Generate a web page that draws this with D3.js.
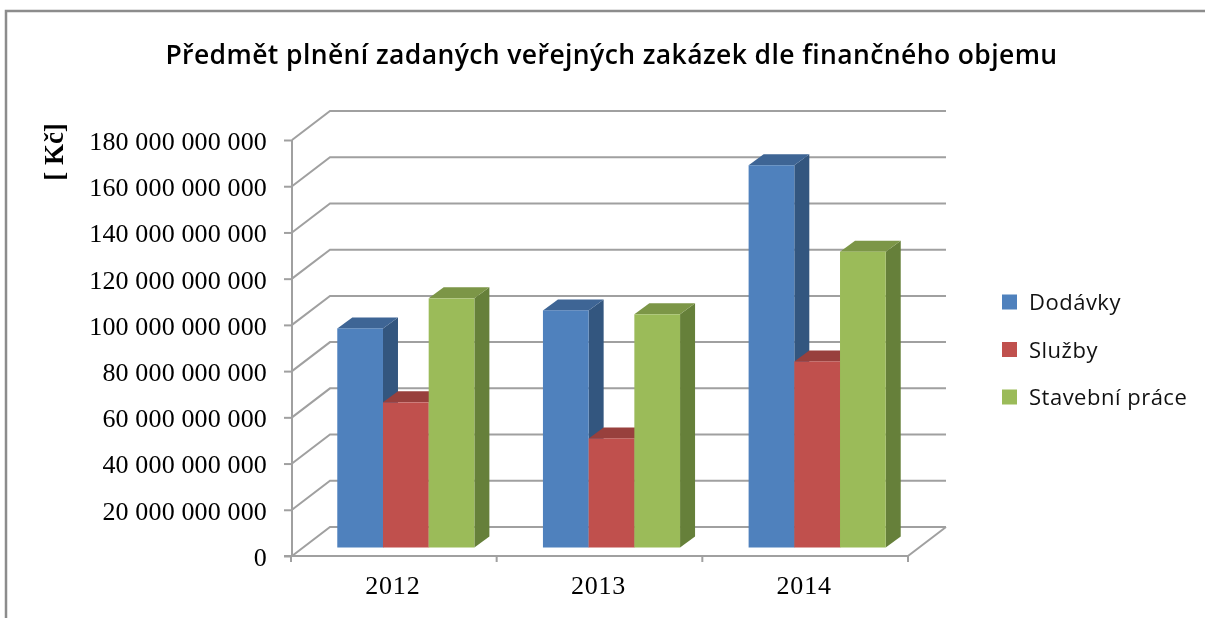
<!DOCTYPE html>
<html><head><meta charset="utf-8">
<style>html,body{margin:0;padding:0;background:#fff}svg{display:block;filter:blur(.45px)}</style>
<script src="https://cdn.jsdelivr.net/npm/d3@7"></script></head><body>
<svg id="c" width="1205" height="618"></svg>
<script>
const categories = ["2012","2013","2014"];
const seriesNames = ["Dodávky","Služby","Stavební práce"];
const dodavky = [94.8e9,102.6e9,165.4e9];
const sluzby = [62.8e9,47.2e9,80.5e9];
const stavebni = [107.8e9,100.9e9,128.0e9];
const yTicks = [0,20e9,40e9,60e9,80e9,100e9,120e9,140e9,160e9,180e9];
const titleText = "Předmět plnění zadaných veřejných zakázek dle finančného objemu";
const yTitle = "[ Kč]";

const seriesValues=[dodavky,sluzby,stavebni];
const front=["#4f81bd","#c0504d","#9bbb59"], side=["#33567f","#823533","#66803a"], top3=["#3e6595","#98403d","#7c9647"];
const gridC="#a0a0a0";
const svg=d3.select("#c");
const x=d3.scaleBand().domain(categories).range([291,908]);
const y=d3.scaleLinear().domain([0,180e9]).range([556,140]);
const inner=d3.scaleBand().domain(seriesNames).range([0,x.bandwidth()]).paddingOuter(.75).paddingInner(0);
const wallDx=38,wallDy=-29,baseDx=12,baseDy=-8.5,depthDx=15,depthDy=-11;

// frame
svg.append("path").attr("d","M6,618V11H1205").attr("fill","none").attr("stroke","#8c8c8c").attr("stroke-width",2.5);
// title
svg.append("text").attr("x",611.5).attr("y",64).attr("text-anchor","middle").attr("font-family","Open Sans").attr("font-weight",600).attr("font-size",26.5).attr("letter-spacing",".4").attr("fill","#000").text(titleText);
// y title
svg.append("text").attr("transform","translate(63,152) rotate(-90)").attr("text-anchor","middle").attr("font-family","Liberation Serif").attr("font-weight",700).attr("font-size",27).text(yTitle);

// walls
const g=svg.append("g").attr("fill","none").attr("stroke",gridC).attr("stroke-width",2);
g.selectAll(".w").data(yTicks).join("path").attr("class","w")
 .attr("d",d=>`M292,${y(d)}L${292+wallDx},${y(d)+wallDy}H946`);
g.append("path").attr("d",`M946,${y(0)+wallDy}L908,${y(0)}`);

// axes
const ya=svg.append("g").attr("transform","translate(292,0)").call(
  d3.axisLeft(y).tickValues(yTicks).tickSize(8).tickPadding(17)
  .tickFormat(d=>d3.format(",")(d).replace(/,/g," ")));
ya.selectAll("line,path").attr("stroke",gridC).attr("stroke-width",2);
ya.select(".domain").attr("d",`M292,${y(0)}V${y(180e9)}`).attr("transform","translate(-292,0)");
ya.selectAll("text").attr("font-family","Liberation Serif").attr("font-size",26).attr("fill","#000").attr("dy",".36em").attr("letter-spacing",".15");
const xa=svg.append("g").attr("transform",`translate(0,${y(0)})`).call(d3.axisBottom(x).tickSize(0).tickPadding(20));
xa.select(".domain").remove();
xa.selectAll("text").attr("font-family","Liberation Serif").attr("font-size",26).attr("fill","#000").attr("dx",-1).attr("letter-spacing",".8");
const bnd=[...categories.map(c=>x(c)),x.range()[1]];
svg.append("g").selectAll("path").data(bnd).join("path").attr("d",d=>`M${d},${y(0)-1}v7`).attr("stroke",gridC).attr("stroke-width",2);
svg.append("path").attr("d",`M284,${y(0)}H908`).attr("stroke",gridC).attr("stroke-width",2);

// bars
categories.forEach((c,i)=>{
  seriesNames.forEach((s,j)=>{
    const v=seriesValues[j][i];
    const x0=x(c)+inner(s)+baseDx, w=inner.bandwidth(), b=y(0)+baseDy, t=y(v)+baseDy;
    const bar=svg.append("g");
    bar.append("path").attr("d",`M${x0+w},${t}l${depthDx},${depthDy}V${b+depthDy}l${-depthDx},${-depthDy}Z`).attr("fill",side[j]);
    bar.append("path").attr("d",`M${x0},${t}l${depthDx},${depthDy}h${w}l${-depthDx},${-depthDy}Z`).attr("fill",top3[j]);
    bar.append("rect").attr("x",x0).attr("y",t).attr("width",w).attr("height",b-t).attr("fill",front[j]);
  });
});

// legend
const legY=d3.scalePoint().domain(seriesNames).range([302,397]);
const lg=svg.append("g").selectAll("g").data(seriesNames).join("g").attr("transform",d=>`translate(1002,${legY(d)})`);
lg.append("rect").attr("y",-7.5).attr("width",15).attr("height",15).attr("fill",(d,i)=>front[i]);
lg.append("text").attr("x",27).attr("y",8).attr("font-family","Open Sans").attr("font-size",22).attr("letter-spacing",".5").attr("fill","#111").text(d=>d);
</script></body></html>
